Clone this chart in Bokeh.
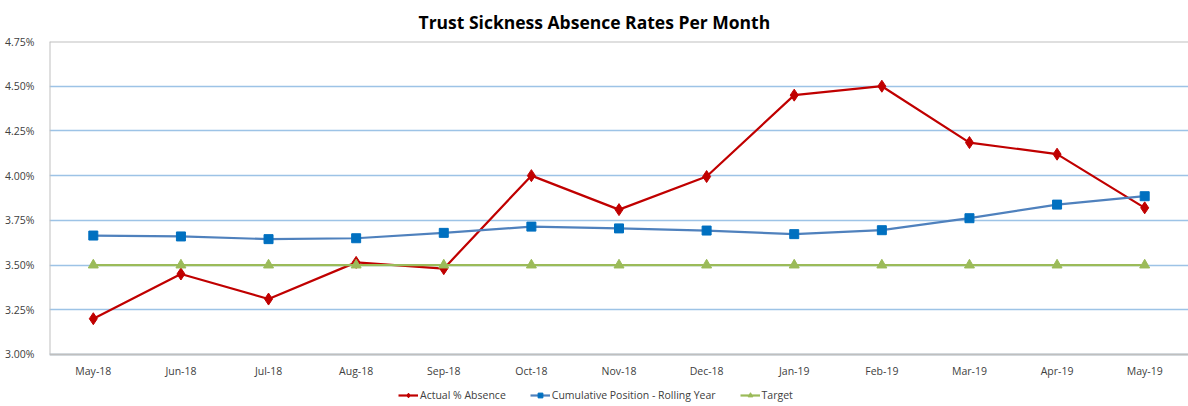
from bokeh.plotting import figure
from bokeh.models import (FactorRange, FixedTicker, PrintfTickFormatter, Legend, LegendItem,
                          Title, ColumnDataSource, Span)
from bokeh.core.properties import value
from bokeh.embed import file_html
from bokeh.resources import INLINE

months = ["May-18", "Jun-18", "Jul-18", "Aug-18", "Sep-18", "Oct-18", "Nov-18",
          "Dec-18", "Jan-19", "Feb-19", "Mar-19", "Apr-19", "May-19"]
actual = [3.20, 3.45, 3.31, 3.515, 3.48, 4.00, 3.81, 3.995, 4.45, 4.50, 4.185, 4.12, 3.82]
cumulative = [3.665, 3.66, 3.645, 3.65, 3.68, 3.715, 3.705, 3.693, 3.673, 3.695, 3.762, 3.838, 3.885]
target = [3.50] * 13
y_ticks = [3.00, 3.25, 3.50, 3.75, 4.00, 4.25, 4.50, 4.75]

FONT = "Open Sans"
Y_MIN, Y_MAX = y_ticks[0], y_ticks[-1]
# extra room below the value axis holds the month labels and the legend
Y_START = Y_MIN - 0.274

p = figure(frame_width=1139, frame_height=362, x_range=FactorRange(*months),
           y_range=(Y_START, Y_MAX),
           output_backend="svg", toolbar_location=None,
           min_border_left=49, min_border_right=0, min_border_top=0, min_border_bottom=0)

p.add_layout(Title(text="Trust Sickness Absence Rates Per Month", align="left", offset=369,
                   text_font=FONT, text_font_size="17.5px", text_font_style="bold",
                   text_color="#000000", standoff=15), "above")

p.x_range.range_padding = 0

src = ColumnDataSource(dict(m=months, a=actual, c=cumulative, t=target,
                            base=[Y_MIN] * len(months)))

# plot-area border: top and bottom spans, left edge segment
p.add_layout(Span(location=Y_MIN, dimension="width", line_color="#BFBFBF", line_width=2))
p.add_layout(Span(location=Y_MAX, dimension="width", line_color="#BFBFBF", line_width=2))
p.segment(x0=[(months[0], -0.5)], y0=[Y_MIN], x1=[(months[0], -0.5)], y1=[Y_MAX],
          line_color="#BFBFBF", line_width=2)

l1 = p.line("m", "a", source=src, line_color="#C00000", line_width=2.2)
m1 = p.scatter("m", "a", source=src, marker="diamond", size=12, fill_color="#C00000", line_color="#C00000")
l2 = p.line("m", "c", source=src, line_color="#4F81BD", line_width=2.2)
m2 = p.scatter("m", "c", source=src, marker="square", size=9, fill_color="#0070C0", line_color="#0070C0")
l3 = p.line("m", "t", source=src, line_color="#9BBB59", line_width=2.2)
m3 = p.scatter("m", "t", source=src, marker="triangle", size=10, fill_color="#9BBB59", line_color="#9BBB59")

# month labels under the value axis
p.text("m", "base", text="m", source=src, y_offset=17, text_align="center",
       text_baseline="middle", text_font=value(FONT), text_font_size="10.5px",
       text_color="#404040")

p.xaxis.visible = False
p.yaxis.ticker = FixedTicker(ticks=y_ticks)
p.yaxis.formatter = PrintfTickFormatter(format="%.2f%%")
p.yaxis.axis_label = None
p.yaxis.major_tick_line_color = None
p.yaxis.minor_tick_line_color = None
p.yaxis.axis_line_color = None
p.yaxis.major_label_text_font = FONT
p.yaxis.major_label_text_font_size = "10.5px"
p.yaxis.major_label_text_color = "#404040"
p.yaxis.major_label_standoff = 9

p.xgrid.grid_line_color = None
p.ygrid.grid_line_color = "#9DC3E6"
p.ygrid.grid_line_width = 1.3
p.outline_line_color = None

legend = Legend(items=[
    LegendItem(label="Actual % Absence", renderers=[l1, m1]),
    LegendItem(label="Cumulative Position - Rolling Year", renderers=[l2, m2]),
    LegendItem(label="Target", renderers=[l3, m3]),
], orientation="horizontal", location=(349, 1), border_line_color=None,
    background_fill_alpha=0,
    label_text_font=FONT, label_text_font_size="10.5px", label_text_color="#404040",
    glyph_width=20, glyph_height=12, label_height=12, label_standoff=2, spacing=24,
    padding=0, margin=0)
p.add_layout(legend, "center")

open("out.html", "w").write(file_html(p, INLINE))
